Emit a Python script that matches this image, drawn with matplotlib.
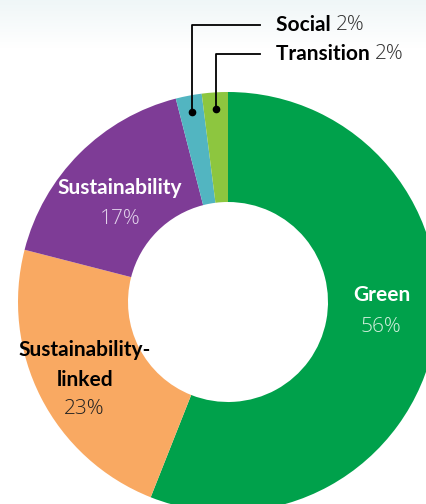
import numpy as np
import matplotlib
matplotlib.use("Agg")
import matplotlib.pyplot as plt


labels = ["Green", "Sustainability-linked", "Sustainability", "Social", "Transition"]
shares = [56, 23, 17, 2, 2]
colors = ["#00a14b", "#f9a962", "#7e3c96", "#52b5c1", "#8dc63f"]

plt.rcParams["font.family"] = ["Lato", "DejaVu Sans"]

W, H = 427, 504
fig = plt.figure(figsize=(W / 100, H / 100), dpi=100)
ax = fig.add_axes([0, 0, 1, 1])

# soft grey band fading out at the top
grad = np.linspace(0, 1, 60)[:, None]
top = np.array([0.94, 0.965, 0.97])
band = top + (1 - top) * np.clip(grad / 0.8, 0, 1)[..., None]
ax.imshow(np.repeat(band, 2, axis=1), extent=(0, W, H - 60, H), origin="upper",
          aspect="auto", zorder=0)

cx, cy, R = 228, H - 302, 210
ax.pie(shares, colors=colors, radius=R, center=(cx, cy), startangle=90,
       counterclock=False, frame=True,
       wedgeprops=dict(width=110, linewidth=0))

ax.set_xlim(0, W)
ax.set_ylim(0, H)
ax.set_aspect("equal")
ax.axis("off")

fs = 15
pct = dict(fontsize=fs, fontweight="light", family=["Open Sans", "DejaVu Sans"])

# inner labels
ax.text(382, H - 295, "Green", color="white", fontsize=fs, fontweight="bold", ha="center", va="center")
ax.text(381, H - 327, f"{shares[0]}%", color="#d3efdd", ha="center", va="center", **pct)

ax.text(120, H - 188, "Sustainability", color="white", fontsize=fs, fontweight="bold", ha="center", va="center")
ax.text(120, H - 219, f"{shares[2]}%", color="#e3d3ec", ha="center", va="center", **pct)

ax.text(85, H - 350, "Sustainability-", color="black", fontsize=fs, fontweight="bold", ha="center", va="center")
ax.text(85, H - 380, "linked", color="black", fontsize=fs, fontweight="bold", ha="center", va="center")
ax.text(84, H - 409, f"{shares[1]}%", color="#222222", ha="center", va="center", **pct)

# leader lines for the two small slices
cum = np.cumsum([0] + shares)
for i, ty in [(3, H - 25), (4, H - 54)]:
    mid = (cum[i] + cum[i + 1]) / 2 / 100 * 2 * np.pi
    dx = cx + 193 * np.sin(mid)
    dy = cy + 193 * np.cos(mid)
    ax.plot([dx, dx, 260], [dy, ty, ty], color="black", lw=1.3, zorder=5)
    ax.plot(dx, dy, "o", color="black", ms=4.5, zorder=6)
    t = ax.text(276, ty, labels[i] + " ", color="black", fontsize=fs, fontweight="bold", va="center")
    fig.canvas.draw()
    bb = t.get_window_extent().transformed(ax.transData.inverted())
    ax.text(bb.x1, ty, f"{shares[i]}%", color="#333333", va="center", **pct)

fig.savefig("out.png", dpi=100)
